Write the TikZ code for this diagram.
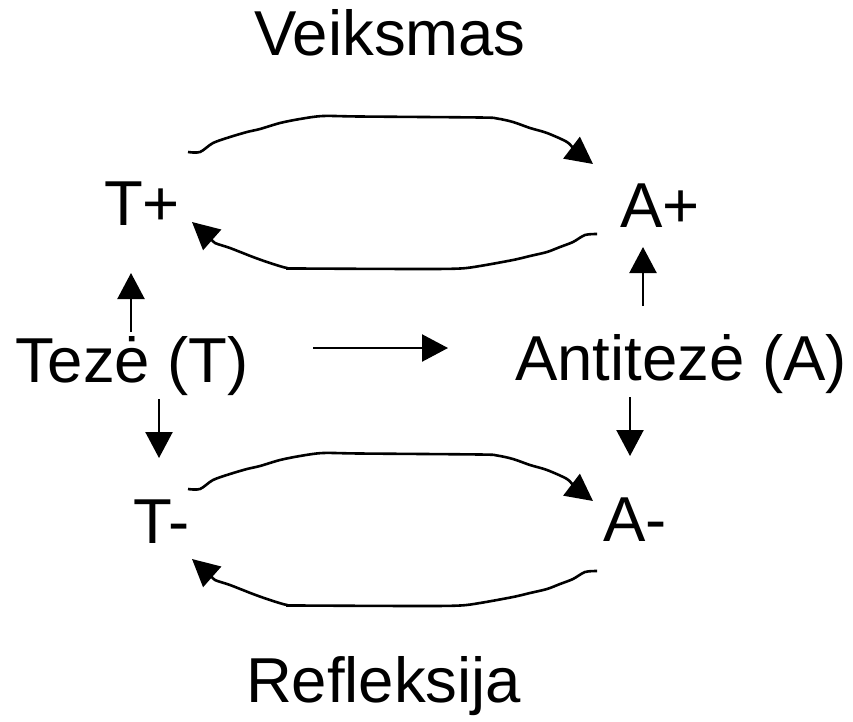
\documentclass[tikz,border=0pt]{standalone}
\usepackage{fontspec}
\setmainfont{Liberation Sans}
\usetikzlibrary{arrows.meta}
\begin{document}
\begin{tikzpicture}[x=1pt,y=-1pt,
  lbl/.style={anchor=base west,inner sep=0pt,outer sep=0pt,font=\fontsize{63.5}{63.5}\selectfont},
  conn/.style={line width=2.3pt,-{Triangle[length=26pt,width=27pt]}},
  wavy/.style={line width=2.6pt,-{Triangle[length=27pt,width=27pt]}}]
\useasboundingbox (0,0) rectangle (853,721);
% labels
\node[lbl] (veik) at (254,55) {Veiksmas};
\node[lbl] (tp) at (104,225) {T+};
\node[lbl] (ap) at (620,227) {A+};
\node[lbl] (teze) at (16,382) {Tezė (T)};
\node[lbl] (anti) at (515,380) {Antitezė (A)};
\node[lbl] (tm) at (133,543) {T-};
\node[lbl] (am) at (603,541) {A-};
\node[lbl] (refl) at (246,702) {Refleksija};
% straight connector ends
\coordinate (tu0) at (131,332); \coordinate (tu1) at (131,273);
\coordinate (td0) at (159,399); \coordinate (td1) at (159,458);
\coordinate (au0) at (643,306); \coordinate (au1) at (643,247);
\coordinate (ad0) at (630,397); \coordinate (ad1) at (630,456);
\coordinate (h0) at (313,348);  \coordinate (h1) at (448,348);
\draw[conn] (tu0) -- (tu1);
\draw[conn] (td0) -- (td1);
\draw[conn] (au0) -- (au1);
\draw[conn] (ad0) -- (ad1);
\draw[conn] (h0) -- (h1);
% wavy loops
\foreach \dy in {0,337}{
\begin{scope}[shift={(0,\dy)}]
\draw[wavy] plot[smooth,tension=0.5] coordinates {
 (188,152) (200,152) (213,143) (230,137) (247,132) (260,129) (280,123)
 (300,119) (323,116) (360,116.5) (480,117.5) (497,118.5) (513,122) (530,128) (547,133)
 (567,142) (575,150) (593,164)};
\draw[wavy] plot[smooth,tension=0.5] coordinates {
 (597,234) (585,235) (573,242) (560,247) (547,252) (530,256) (513,260)
 (480,266) (460,268.5) (420,269) (300,268.5) (287,268) (270,263) (253,257) (230,248) (215,243)
 (210,238) (192,222)};
\end{scope}}
\end{tikzpicture}
\end{document}
